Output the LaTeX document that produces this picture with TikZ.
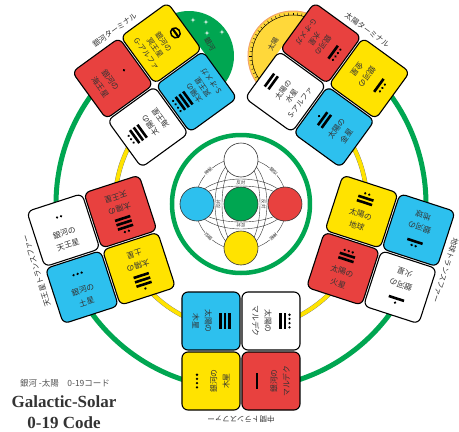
\documentclass[tikz,border=0pt]{standalone}
\usepackage{fontspec}
\setmainfont{Liberation Serif}
\newfontfamily\jp{Noto Sans CJK JP}
\definecolor{mred}{HTML}{E8413F}
\definecolor{myellow}{HTML}{FFE300}
\definecolor{mblue}{HTML}{2DC0EE}
\definecolor{mgreen}{HTML}{00A651}
\definecolor{ink}{HTML}{333333}
\definecolor{sunrim}{HTML}{F2A36B}
\definecolor{sunfill}{HTML}{FFD83A}
\tikzset{gs/.style={x=1pt,y=1pt,line width=.5pt},
  sq/.style={draw=black,line width=1.1pt,rounded corners=6pt,minimum size=58pt,inner sep=0pt},
  txt/.style={font=\jp\fontsize{7.8}{12.5}\selectfont,text=ink,align=center,inner sep=0pt},
  txtiii/.style={txt,font=\jp\fontsize{7.4}{10.5}\selectfont},
  grplab/.style={font=\jp\fontsize{7.5}{9}\selectfont,text=ink,inner sep=0pt},
  rel/.style={font=\jp\fontsize{4.5}{5}\selectfont,text=ink,inner sep=.6pt}}
% maya numeral centred at height #2 of the current (text) frame
\newcommand\mayanum[2]{%
  \ifnum#1=0\relax
    \draw[line width=1.5pt] (0,#2) ellipse (5.2 and 4.6);\fill (-5.2,#2-1) rectangle (5.2,#2+1.2);
  \else
    \pgfmathtruncatemacro\nbar{#1/5}\pgfmathtruncatemacro\ndot{#1-5*\nbar}%
    \pgfmathsetmacro\gh{(\nbar>0)*(\nbar*4.6-2)+(\ndot>0)*2.6+(\nbar>0)*(\ndot>0)*1.8}%
    \pgfmathsetmacro\gy{#2-\gh/2}%
    \ifnum\nbar>0 \foreach \k in {1,...,\nbar}{\fill (-8,{\gy+(\k-1)*4.6}) rectangle (8,{\gy+(\k-1)*4.6+2.6});}\fi
    \ifnum\ndot>0 \foreach \k in {1,...,\ndot}{\fill ({(\k-(\ndot+1)/2)*4.2},{\gy+\gh-1.3}) circle (1.3);}\fi
  \fi}
% one group of four tiles: angle, name, label, tiles (x/y/colour/number/lines/text)
\newcommand\sqgroup[4]{%
  \begin{scope}[shift={(#1:147)},rotate=#1+90]
    \fill[white,rounded corners=6pt] (-59,-59) rectangle (59,59);
    \node[grplab,transform shape,rotate=180] (#2) at (0,-68) {#3};
    \foreach \lx/\ly/\c/\n/\nl/\t in {#4}{%
      \node[sq,fill=\c,transform shape] (sq\n) at (\lx,\ly) {};
      \pgfmathsetmacro\tr{ifthenelse(\ly>0,-90,90)}%
      \begin{scope}[shift={(\lx,\ly)},rotate=\tr]
        \ifnum\nl=3
          \mayanum{\n}{17.5}
          \node[txtiii,transform shape] (tx\n) at (0,-7.5) {\t};
        \else
          \mayanum{\n}{14}
          \node[txt,transform shape] (tx\n) at (0,-9) {\t};
        \fi
      \end{scope}}
  \end{scope}}

\begin{document}
\begin{tikzpicture}[gs]
  \useasboundingbox (-241,-228) rectangle (218,204);
  % rings
  \draw[mgreen,line width=5pt] (126:185) arc[start angle=126,end angle=414,radius=185];
  \draw[black!55,line width=4.5pt] (126:126) arc[start angle=126,end angle=414,radius=126];
  \draw[myellow,line width=3.9pt] (126:126) arc[start angle=126,end angle=414,radius=126];
  % galaxy and sun
  \fill[mgreen] (-52,148) circle (45);
  \foreach \x/\y in {-48/184,-35/182,-19/172,-34/171}{\fill[white] (\x,\y) +(0,2.5)--+(.5,.5)--+(2.5,0)--+(.5,-.5)--+(0,-2.5)--+(-.5,-.5)--+(-2.5,0)--+(-.5,.5)--cycle;}
  \node[font=\jp\fontsize{7}{8}\selectfont,text=ink,rotate=-60] (galaxy) at (-31,160) {銀河};
  \fill[sunfill,draw=sunrim,line width=1pt] (52,148) circle (45);
  \draw[black,line width=.5pt] (52,148) circle (41);
  \foreach \a in {0,6,...,354}{\draw[black,line width=.4pt] (52,148)+(\a:41)--+(\a:43.5);}
  \node[font=\jp\fontsize{7}{8}\selectfont,text=ink,rotate=60] (sun) at (32,160) {太陽};
  % tile groups
  \sqgroup{-90}{midlab}{中間トランスファー}{-30/30/mblue/15/2/{太陽の\\木星},30/30/white/14/2/{太陽の\\マルデク},-30/-30/myellow/4/2/{銀河の\\木星},30/-30/mred/5/2/{銀河の\\マルデク}}
  \sqgroup{-18}{earthlab}{地球トランスファー}{-30/30/mred/13/2/{太陽の\\火星},30/30/myellow/12/2/{太陽の\\地球},-30/-30/white/6/2/{銀河の\\火星},30/-30/mblue/7/2/{銀河の\\地球}}
  \sqgroup{54}{sunlab}{太陽ターミナル}{-30/30/mblue/11/2/{太陽の\\金星},30/30/white/10/3/{太陽の\\水星\\S-アルファ},-30/-30/myellow/8/2/{銀河の\\金星},30/-30/mred/9/3/{銀河の\\水星\\G-オメガ}}
  \sqgroup{126}{gallab}{銀河ターミナル}{-30/30/mblue/19/3/{太陽の\\冥王星\\S-オメガ},30/30/white/18/2/{太陽の\\海王星},-30/-30/myellow/0/3/{銀河の\\冥王星\\G-アルファ},30/-30/mred/1/2/{銀河の\\海王星}}
  \sqgroup{198}{uralab}{天王星トランスファー}{-30/30/mred/17/2/{太陽の\\天王星},30/30/myellow/16/2/{太陽の\\土星},-30/-30/white/2/2/{銀河の\\天王星},30/-30/mblue/3/2/{銀河の\\土星}}
  % oracle in the middle
  \draw[mgreen,line width=4.5pt,fill=white] (0,0) circle (69);
  \draw[ink,line width=.4pt] (0,0) circle (46) (0,0) ellipse (46 and 25) (0,0) ellipse (46 and 18) (0,0) ellipse (26 and 46) (0,0) ellipse (19 and 46);
  \node[rel] (anti1) at (0,21.5) {反対};\node[rel,rotate=180] (anti2) at (0,-21.5) {反対};
  \node[rel,rotate=90] (anti3) at (-22.5,0) {反対};\node[rel,rotate=-90] (anti4) at (22.5,0) {反対};
  \node[rel,fill=white,rotate=45] (occ1) at (135:46) {神秘};\node[rel,fill=white,rotate=-45] (ana1) at (45:46) {類似};
  \node[rel,fill=white,rotate=135] (ana2) at (225:46) {類似};\node[rel,fill=white,rotate=-135] (occ2) at (315:46) {神秘};
  \node[circle,draw=ink,line width=.6pt,fill=white,minimum size=34pt] (guide) at (0,44) {};
  \node[circle,draw=ink,line width=.6pt,fill=mblue,minimum size=34pt] (left) at (-44,0) {};
  \node[circle,draw=ink,line width=.6pt,fill=mgreen,minimum size=34pt] (destiny) at (0,0) {};
  \node[circle,draw=ink,line width=.6pt,fill=mred,minimum size=34pt] (right) at (44,0) {};
  \node[circle,draw=ink,line width=.6pt,fill=myellow,minimum size=34pt] (below) at (0,-44) {};
  % title
  \node[font=\jp\fontsize{8.5}{9}\selectfont,text=ink!85] (subt) at (-176,-179) {銀河 -太陽\quad 0-19コード};
  \node[font=\bfseries\fontsize{17}{19}\selectfont,text=ink] (title) at (-177,-198) {Galactic-Solar};
  \node[font=\bfseries\fontsize{17}{19}\selectfont,text=ink] (code) at (-177,-219) {0-19 Code};
\end{tikzpicture}
\end{document}
